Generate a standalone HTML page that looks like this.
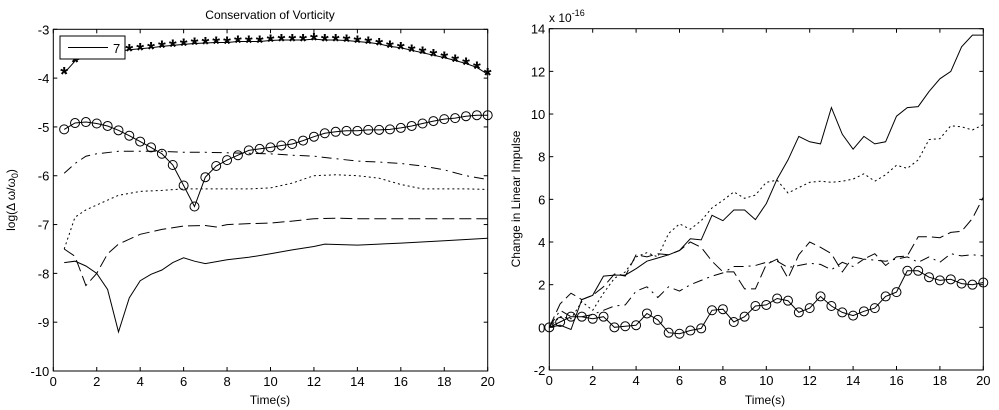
<!DOCTYPE html>
<html><head><meta charset="utf-8"><style>
html,body{margin:0;padding:0;background:#fff;}
svg{display:block;font-family:"Liberation Sans",sans-serif;}
</style></head><body>
<svg id="chart" width="999" height="410" viewBox="0 0 999 410">
<rect width="999" height="410" fill="#fff"/>
<g id="left"></g>
<g id="right"></g>
</svg>
<script>
// ---------- Left chart data ----------
const tLeftHalf = [0.5,1,1.5,2,2.5,3,3.5,4,4.5,5,5.5,6,6.5,7,7.5,8,8.5,9,9.5,10,10.5,11,11.5,12,12.5,13,13.5,14,14.5,15,15.5,16,16.5,17,17.5,18,18.5,19,19.5,20];
const starVals = [-3.9,-3.65,-3.55,-3.5,-3.47,-3.45,-3.42,-3.4,-3.38,-3.35,-3.33,-3.31,-3.29,-3.28,-3.27,-3.27,-3.25,-3.25,-3.25,-3.23,-3.22,-3.22,-3.22,-3.2,-3.22,-3.22,-3.23,-3.25,-3.27,-3.3,-3.35,-3.38,-3.43,-3.48,-3.53,-3.58,-3.64,-3.7,-3.78,-3.92];
const circVals = [-5.05,-4.92,-4.9,-4.93,-4.98,-5.07,-5.18,-5.3,-5.42,-5.55,-5.78,-6.2,-6.63,-6.03,-5.8,-5.68,-5.58,-5.48,-5.45,-5.42,-5.38,-5.35,-5.28,-5.2,-5.13,-5.1,-5.08,-5.08,-5.06,-5.06,-5.05,-5.02,-4.98,-4.93,-4.88,-4.84,-4.82,-4.78,-4.76,-4.76];
const tLeftWhole = [0.5,1,1.5,2,3,4,5,6,7,8,9,10,11,12,13,14,15,16,17,18,19,20];
const dashDotVals = [-5.95,-5.75,-5.6,-5.55,-5.5,-5.5,-5.5,-5.52,-5.52,-5.53,-5.54,-5.55,-5.58,-5.6,-5.65,-5.7,-5.72,-5.75,-5.8,-5.88,-6.0,-6.08];
const dottedVals = [-7.5,-6.85,-6.7,-6.6,-6.4,-6.32,-6.3,-6.27,-6.27,-6.27,-6.27,-6.25,-6.15,-6.0,-5.98,-6.0,-6.05,-6.18,-6.27,-6.27,-6.27,-6.28];
const tLongDash = [0.5,1,1.5,2,2.5,3,4,5,6,7,7.5,8,9,10,11,12,13,14,16,18,20];
const longDashVals = [-7.5,-7.65,-8.25,-8.0,-7.6,-7.4,-7.2,-7.1,-7.03,-7.02,-7.05,-7.0,-6.98,-6.97,-6.93,-6.88,-6.87,-6.88,-6.88,-6.88,-6.88];
const tSolidL = [0.5,1,1.5,2,2.5,3,3.5,4,4.5,5,5.5,6,6.5,7,8,9,10,11,12,12.5,14,16,18,20];
const solidLVals = [-7.78,-7.75,-7.85,-8.0,-8.33,-9.2,-8.5,-8.15,-8.02,-7.93,-7.78,-7.68,-7.75,-7.8,-7.72,-7.67,-7.6,-7.52,-7.45,-7.4,-7.42,-7.38,-7.33,-7.28];
const leftXTicks = [0,2,4,6,8,10,12,14,16,18,20];
const leftYTicks = [-3,-4,-5,-6,-7,-8,-9,-10];

// ---------- Right chart data ----------
const tRight = [0,0.5,1,1.5,2,2.5,3,3.5,4,4.5,5,5.5,6,6.5,7,7.5,8,8.5,9,9.5,10,10.5,11,11.5,12,12.5,13,13.5,14,14.5,15,15.5,16,16.5,17,17.5,18,18.5,19,19.5,20];
const rCirc = [0,0.25,0.5,0.5,0.4,0.5,0,0.05,0.1,0.65,0.35,-0.25,-0.3,-0.15,-0.05,0.8,0.85,0.25,0.5,1.0,1.05,1.35,1.25,0.7,0.9,1.45,1.0,0.7,0.55,0.75,0.9,1.45,1.65,2.65,2.65,2.35,2.2,2.25,2.05,2.0,2.1];
const rSolid = [0,0.1,-0.1,1.3,1.5,2.4,2.45,2.45,2.75,3.1,3.25,3.4,3.6,4.15,4.1,5.25,5.0,5.5,5.5,5.05,5.8,6.95,7.85,8.95,8.7,8.6,10.3,9.05,8.35,8.95,8.6,8.7,9.9,10.3,10.35,11.05,11.65,12.0,13.15,13.7,13.7];
const rDotted = [0,0.5,0.4,1.2,0.8,1.6,2.3,2.6,3.3,3.5,3.3,4.4,4.85,4.6,5.0,5.6,5.95,6.35,6.05,6.2,6.8,6.9,6.3,6.55,6.8,6.85,6.8,6.85,6.95,7.2,6.85,7.15,7.6,7.45,7.85,8.8,8.85,9.45,9.4,9.25,9.5];
const rLongDash = [0,1.1,1.6,1.3,1.5,1.9,2.5,2.4,3.4,3.3,3.45,3.4,3.6,4.0,3.75,3.1,2.6,2.6,1.8,1.8,2.95,3.2,2.3,3.4,4.0,3.75,3.45,2.6,3.3,3.2,3.45,2.9,3.3,3.35,4.25,4.25,4.2,4.45,4.5,5.1,6.1];
const rDashDot = [0,0.8,0.5,0.5,0.6,0.8,1.0,1.05,1.7,1.9,1.4,1.9,1.7,2.0,2.2,2.4,2.55,2.85,2.85,2.9,3.05,3.1,2.8,2.9,3.0,2.95,2.7,3.05,2.85,3.2,3.15,3.1,3.2,3.3,3.05,3.3,3.05,3.45,3.35,3.4,3.35];
const rightXTicks = [0,2,4,6,8,10,12,14,16,18,20];
const rightYTicks = [-2,0,2,4,6,8,10,12,14];

const NS="http://www.w3.org/2000/svg";
function mk(parent,tag,attrs){const e=document.createElementNS(NS,tag);for(const k in attrs)e.setAttribute(k,attrs[k]);parent.appendChild(e);return e;}
function scale(d0,d1,r0,r1){return v=>r0+(v-d0)*(r1-r0)/(d1-d0);}

function axes(g,x,y,x0,x1,y0,y1,xt,yt){
  const box=mk(g,'rect',{x:x0,y:y0,width:x1-x0,height:y1-y0,fill:'none',stroke:'#000','stroke-width':1});
  
  
  xt.forEach(v=>{
    const px=x(v);
    const t=mk(g,'line',{x1:px,x2:px,y1:y1,y2:y1-4,stroke:'#000'});
    
    
    const t2=mk(g,'line',{x1:px,x2:px,y1:y0,y2:y0+4,stroke:'#000'});
    
    
    const l=mk(g,'text',{x:px,y:y1+15,'font-size':13,'text-anchor':'middle'});
    l.textContent=v;
    
    
  });
  yt.forEach(v=>{
    const py=y(v);
    const t=mk(g,'line',{x1:x0,x2:x0+4,y1:py,y2:py,stroke:'#000'});
    
    
    const t2=mk(g,'line',{x1:x1,x2:x1-4,y1:py,y2:py,stroke:'#000'});
    
    
    const l=mk(g,'text',{x:x0-4,y:py+5,'font-size':13,'text-anchor':'end'});
    l.textContent=v;
    
    
  });
}
function line(g,x,y,xs,ys,dash,name){
  const p=mk(g,'polyline',{points:xs.map((v,i)=>x(v).toFixed(1)+','+y(ys[i]).toFixed(1)).join(' '),fill:'none',stroke:'#000','stroke-width':1});
  if(dash)p.setAttribute('stroke-dasharray',dash);
  
  
}
function circles(g,x,y,xs,ys,name){
  xs.forEach((v,i)=>{
    const c=mk(g,'circle',{cx:x(v),cy:y(ys[i]),r:4.5,fill:'none',stroke:'#000'});
    
    
  });
}
function stars(g,x,y,xs,ys,name){
  xs.forEach((v,i)=>{
    const t=mk(g,'text',{x:x(v),y:y(ys[i])+8,'font-size':20,'text-anchor':'middle','font-weight':'bold'});
    t.textContent='*';
    
    
  });
}

// Left
(function(){
  const g=document.getElementById('left');
  const X0=53.3,X1=487.7,Y0=29.3,Y1=371;
  const x=scale(0,20,X0,X1), y=scale(-3,-10,Y0,Y1);
  axes(g,x,y,X0,X1,Y0,Y1,leftXTicks,leftYTicks);
  line(g,x,y,tLeftHalf,starVals,null,'series-star');
  stars(g,x,y,tLeftHalf,starVals,'star-marker');
  line(g,x,y,tLeftHalf,circVals,null,'series-circle');
  circles(g,x,y,tLeftHalf,circVals,'circle-marker');
  line(g,x,y,tLeftWhole,dashDotVals,'10,5,2,5','series-dash-dot');
  line(g,x,y,tLeftWhole,dottedVals,'2,3','series-dotted');
  line(g,x,y,tLongDash,longDashVals,'12,5','series-long-dash');
  line(g,x,y,tSolidL,solidLVals,null,'series-solid');
  const lg=mk(g,'g',{});
  
  
  mk(lg,'rect',{x:60,y:36,width:65,height:23,fill:'#fff',stroke:'#000'});
  mk(lg,'line',{x1:68,x2:108,y1:47.5,y2:47.5,stroke:'#000'});
  const lt=mk(lg,'text',{x:113,y:53,'font-size':13});lt.textContent='7';
  const title=mk(g,'text',{x:270,y:19,'font-size':12,'text-anchor':'middle'});
  title.textContent='Conservation of Vorticity';
  
  
  const xl=mk(g,'text',{x:270,y:404,'font-size':12,'text-anchor':'middle'});
  xl.textContent='Time(s)';
  
  
  const yl=mk(g,'text',{transform:'translate(15,200) rotate(-90)','font-size':12,'text-anchor':'middle'});
  yl.innerHTML='log(\u0394 \u03c9/\u03c9<tspan font-size="9" dy="3">0</tspan><tspan dy="-3">)</tspan>';
  
  
})();

// Right
(function(){
  const g=document.getElementById('right');
  const X0=549.3,X1=983.3,Y0=28.7,Y1=370;
  const x=scale(0,20,X0,X1), y=scale(14,-2,Y0,Y1);
  axes(g,x,y,X0,X1,Y0,Y1,rightXTicks,rightYTicks);
  line(g,x,y,tRight,rSolid,null,'series-solid');
  line(g,x,y,tRight,rDotted,'2,3','series-dotted');
  line(g,x,y,tRight,rLongDash,'12,5','series-long-dash');
  line(g,x,y,tRight,rDashDot,'10,5,2,5','series-dash-dot');
  line(g,x,y,tRight,rCirc,null,'series-circle');
  circles(g,x,y,tRight,rCirc,'circle-marker');
  const ex=mk(g,'text',{x:549,y:22,'font-size':12});
  ex.innerHTML='x 10<tspan font-size="9" dy="-6">-16</tspan>';
  
  
  const xl=mk(g,'text',{x:765,y:404,'font-size':12,'text-anchor':'middle'});
  xl.textContent='Time(s)';
  
  
  const yl=mk(g,'text',{transform:'translate(520,199) rotate(-90)','font-size':12,'text-anchor':'middle'});
  yl.textContent='Change in Linear Impulse';
  
  
})();
</script>
</body></html>
